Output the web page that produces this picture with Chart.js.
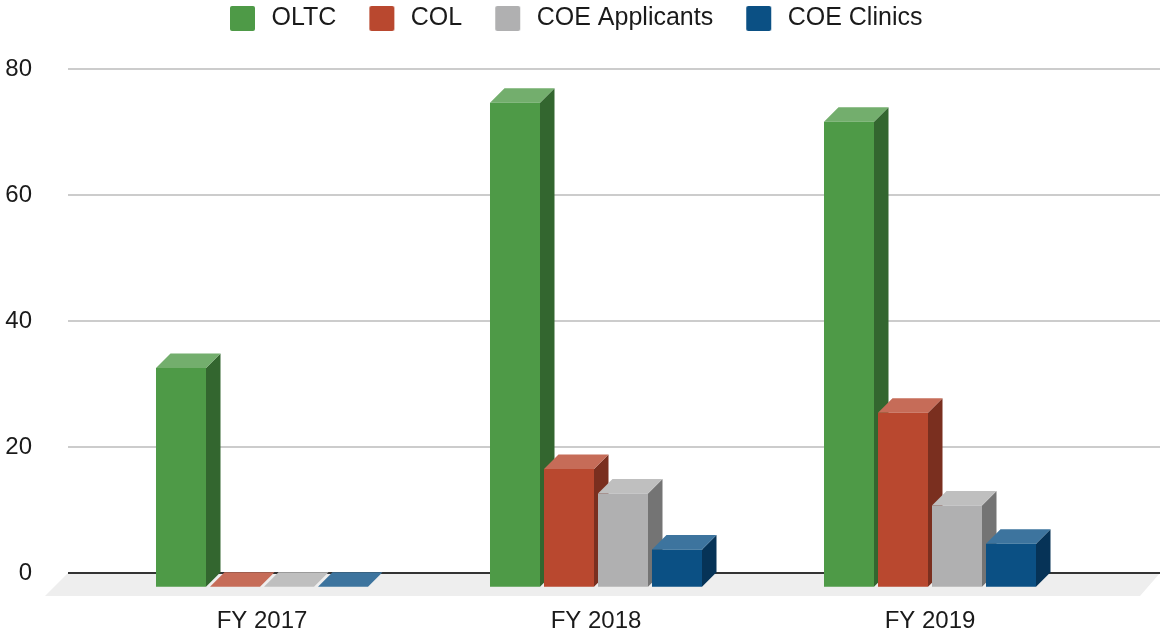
<!DOCTYPE html>
<html>
<head>
<meta charset="utf-8">
<script src="https://cdn.jsdelivr.net/npm/chart.js@4"></script>
<style>
  html, body { margin: 0; padding: 0; background: #fff; }
  canvas { display: block; }
</style>
</head>
<body>
<canvas id="myChart" width="1160" height="632"></canvas>
<script>
const categories = ['FY 2017', 'FY 2018', 'FY 2019'];
const seriesNames = ['OLTC', 'COL', 'COE Applicants', 'COE Clinics'];
const oltc = [34.7, 76.8, 73.8];
const col = [0, 18.7, 27.6];
const coeApplicants = [0, 14.8, 12.9];
const coeClinics = [0, 5.9, 6.8];
const yTicks = [0, 20, 40, 60, 80];

const frontColors = ['#4e9a47', '#b9482f', '#b0b0b1', '#0b5084'];
const topColors = ['#73ae6d', '#c66c58', '#bfbfbf', '#3d749e'];
const sideColors = ['#33662f', '#7a2f1f', '#747474', '#063357'];

// fake 3d: depth of the boxes and how far the front plane sits under the back wall
const depth = 14.5;
const frontShift = 13.7;

function legendSwatch(color) {
  const c = document.createElement('canvas');
  c.width = 57;
  c.height = 25;
  const g = c.getContext('2d');
  g.fillStyle = color;
  g.beginPath();
  g.roundRect(28, 0, 25, 25, 2);
  g.fill();
  return c;
}

function poly(ctx, color, pts) {
  ctx.fillStyle = color;
  ctx.beginPath();
  pts.forEach((p, i) => i ? ctx.lineTo(p[0], p[1]) : ctx.moveTo(p[0], p[1]));
  ctx.closePath();
  ctx.fill();
}

const fake3d = {
  id: 'fake3d',
  afterLayout(chart) {
    chart.legend.left = 197;
    chart.legend.top = 1;
  },
  beforeDatasetsDraw(chart) {
    const ctx = chart.ctx;
    const area = chart.chartArea;
    const y = chart.scales.y;
    const y0 = y.getPixelForValue(0);
    const wallLeft = area.left - 27;

    // floor
    poly(ctx, '#eeeeee', [
      [wallLeft, y0], [chart.width, y0],
      [chart.width - 20, y0 + 23], [wallLeft - 23, y0 + 23]
    ]);

    // back wall lines
    yTicks.forEach(v => {
      const py = y.getPixelForValue(v);
      ctx.strokeStyle = v === 0 ? '#333333' : '#cccccc';
      ctx.lineWidth = 2;
      ctx.beginPath();
      ctx.moveTo(wallLeft, py);
      ctx.lineTo(chart.width, py);
      ctx.stroke();
    });

    // everything from here on is the front plane, restored after the datasets
    ctx.save();
    ctx.translate(0, frontShift);
    seriesNames.forEach((name, d) => {
      chart.getDatasetMeta(d).data.forEach(bar => {
        const l = bar.x - bar.width / 2;
        const r = bar.x + bar.width / 2;
        poly(ctx, sideColors[d], [[r, bar.y], [r + depth, bar.y - depth], [r + depth, bar.base - depth], [r, bar.base]]);
        poly(ctx, topColors[d], [[l, bar.y], [l + depth, bar.y - depth], [r + depth, bar.y - depth], [r, bar.y]]);
      });
    });
  },
  afterDatasetsDraw(chart) {
    chart.ctx.restore();
  }
};

const allValues = [oltc, col, coeApplicants, coeClinics];

new Chart(document.getElementById('myChart').getContext('2d'), {
  type: 'bar',
  data: {
    labels: categories,
    datasets: seriesNames.map((name, i) => ({
      label: name,
      data: allValues[i],
      backgroundColor: frontColors[i],
      borderWidth: 0,
      clip: false,
      barPercentage: 0.926,
      categoryPercentage: 0.6467
    }))
  },
  plugins: [fake3d],
  options: {
    responsive: false,
    animation: false,
    layout: { padding: { top: 29, right: 63, bottom: 0, left: 0 } },
    plugins: {
      tooltip: { enabled: false },
      legend: {
        position: 'top',
        align: 'start',
        labels: {
          usePointStyle: true,
          pointStyleWidth: 57,
          padding: 5,
          color: '#1a1a1a',
          font: { family: '"Liberation Sans"', size: 25 },
          generateLabels(chart) {
            return Chart.defaults.plugins.legend.labels.generateLabels(chart).map((item, i) => {
              item.pointStyle = legendSwatch(frontColors[i]);
              return item;
            });
          }
        }
      }
    },
    scales: {
      x: {
        grid: { display: false, drawTicks: false },
        border: { display: false },
        afterFit(scale) { scale.height = 59; },
        ticks: {
          color: '#1a1a1a',
          padding: 34,
          maxRotation: 0,
          autoSkip: false,
          font: { family: '"Liberation Sans"', size: 24 }
        }
      },
      y: {
        min: 0,
        max: 80,
        grid: { display: false, drawTicks: false },
        border: { display: false },
        afterFit(scale) {
          scale.width = 95;
          // tick padding only pushes labels left here, it must not eat chart height
          scale.paddingTop = 0;
          scale.paddingBottom = 0;
        },
        afterBuildTicks(scale) { scale.ticks = yTicks.map(value => ({ value })); },
        ticks: {
          color: '#1a1a1a',
          padding: 63,
          font: { family: '"Liberation Sans"', size: 24 }
        }
      }
    }
  }
});
</script>
</body>
</html>
